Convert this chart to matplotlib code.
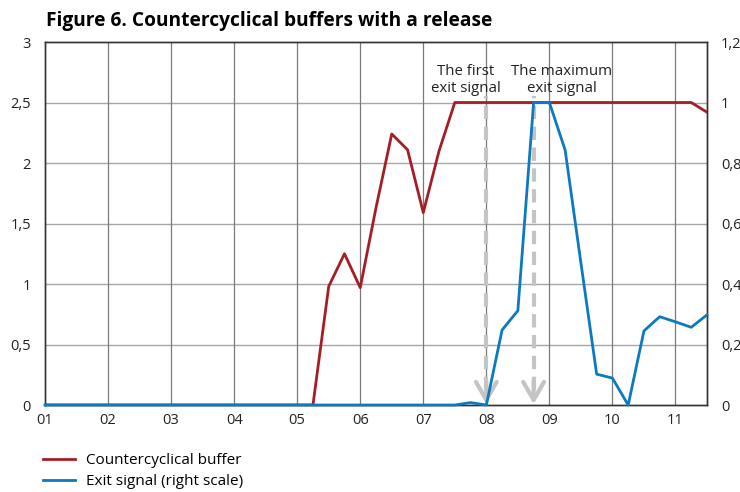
import numpy as np
import matplotlib
matplotlib.use("Agg")
import matplotlib.pyplot as plt

plt.rcParams['font.family'] = ['Open Sans', 'DejaVu Sans']

# quarterly data, 2001Q1 .. 2011Q3
quarters = 1 + np.arange(43) / 4

buffer = [0, 0, 0, 0, 0, 0, 0, 0, 0, 0,
          0, 0, 0, 0, 0, 0, 0, 0, 0.98, 1.25,
          0.97, 1.63, 2.24, 2.11, 1.59, 2.10, 2.5, 2.5, 2.5, 2.5,
          2.5, 2.5, 2.5, 2.5, 2.5, 2.5, 2.5, 2.5, 2.5, 2.5,
          2.5, 2.5, 2.42]

exit_signal = [0, 0, 0, 0, 0, 0, 0, 0, 0, 0,
               0, 0, 0, 0, 0, 0, 0, 0, 0, 0,
               0, 0, 0, 0, 0, 0, 0, 0.008, 0, 0.248,
               0.312, 1.0, 1.0, 0.843, 0.47, 0.102, 0.089, 0, 0.245, 0.292,
               0.275, 0.257, 0.298]

year_ticks = list(range(1, 12))
year_labels = ['01', '02', '03', '04', '05', '06', '07', '08', '09', '10', '11']
left_ticks = [0, 0.5, 1, 1.5, 2, 2.5, 3]
right_ticks = [0, 0.2, 0.4, 0.6, 0.8, 1.0, 1.2]

arrow_x = [8.0, 8.75]
arrow_text = ['The first\nexit signal', 'The maximum\nexit signal']
text_x = [7.67, 9.2]

red = '#a51e25'
blue = '#0b7ac0'
grey = '#c4c4c4'

def comma(v):
    s = ('%g' % v)
    return s.replace('.', ',')

fig = plt.figure(figsize=(7.4, 4.92), dpi=100)
ax = fig.add_axes([0.0608, 0.1768, 0.8946, 0.7378])
ax2 = ax.twinx()

ax.set_xlim(1, 11.5)
ax.set_ylim(0, 3)
ax2.set_ylim(0, 1.2)

ax.set_xticks(year_ticks)
ax.set_xticklabels(year_labels)
ax.set_yticks(left_ticks)
ax.set_yticklabels([comma(v) for v in left_ticks])
ax2.set_yticks(right_ticks)
ax2.set_yticklabels([comma(v) for v in right_ticks])

for v in left_ticks[1:-1]:
    ax.axhline(v, color='#a8a8a8', lw=1, zorder=0)
for v in year_ticks[1:]:
    ax.axvline(v, color='#7a7a7a', lw=0.9, zorder=0)

ax.tick_params(length=0, labelsize=10.5, colors='#222222')
ax.tick_params(axis='y', pad=10)
ax.tick_params(axis='x', pad=6)
ax2.tick_params(length=0, labelsize=10.5, colors='#222222', pad=10)

for a in (ax, ax2):
    for s in a.spines.values():
        s.set_color('#333333')
        s.set_linewidth(1)

l1, = ax.plot(quarters, buffer, color=red, lw=2, zorder=3, label='Countercyclical buffer')
l2, = ax2.plot(quarters, exit_signal, color=blue, lw=2, zorder=3, clip_on=False,
               label='Exit signal (right scale)')

# dashed arrows
for x in arrow_x:
    ax2.plot([x, x], [0.05, 1.02], color=grey, lw=3, ls=(0, (3.2, 1.8)), zorder=2)
    ax2.annotate('', xy=(x, 0.003), xytext=(x, 0.08),
                 arrowprops=dict(arrowstyle='->,head_length=1.3,head_width=0.75',
                                 color=grey, lw=3, shrinkA=0, shrinkB=0), zorder=2)

for x, t in zip(text_x, arrow_text):
    ax2.text(x, 1.022, t, ha='center', va='bottom', fontsize=10.8,
             color='#222222', linespacing=1.2)

fig.text(0.062, 0.958, 'Figure 6. Countercyclical buffers with a release',
         fontsize=13.8, fontweight='bold', ha='left', va='center')

fig.legend(handles=[l1, l2], loc='lower left', bbox_to_anchor=(0.04, -0.022),
           frameon=False, fontsize=11, handlelength=2.1, handletextpad=0.7,
           labelspacing=0.4)

fig.savefig('out.png', dpi=100)
